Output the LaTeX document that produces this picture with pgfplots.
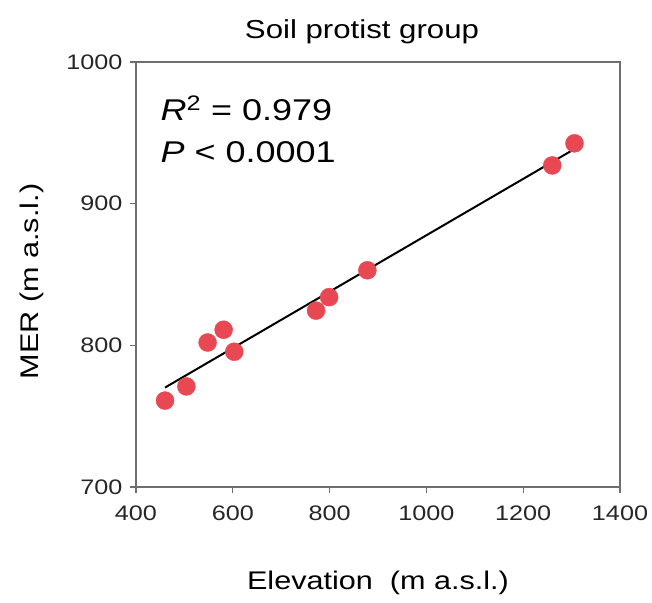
\documentclass[border=0pt]{standalone}
\usepackage{fontspec}
\setmainfont{Liberation Sans}[FakeStretch=1.2]
\usepackage{pgfplots}
\pgfplotsset{compat=1.18}
\definecolor{ptred}{RGB}{232,72,82}
\definecolor{framegray}{RGB}{110,110,110}
\begin{document}
\begin{tikzpicture}
\begin{axis}[
  scale only axis,
  width=484pt, height=425pt,
  xmin=400, xmax=1400, ymin=700, ymax=1000,
  xtick={400,600,800,1000,1200,1400},
  ytick={700,800,900,1000},
  xtick pos=bottom, ytick pos=left,
  tick align=outside,
  major tick length=6pt,
  axis line style={framegray, line width=1.6pt},
  every tick/.style={framegray, line width=1.2pt},
  /pgf/number format/assume math mode=true,
  /pgf/number format/1000 sep={},
  ticklabel style={font=\fontsize{21}{25}\selectfont, text=black!85},
  xticklabel style={yshift=-9pt},
  yticklabel style={xshift=-4pt},
  title={Soil protist group},
  title style={font=\fontsize{26}{30}\selectfont, at={(axis description cs:0.5,1)}, anchor=base, yshift=17pt, xshift=-16pt},
  xlabel={Elevation\ \ (m a.s.l.)},
  xlabel style={font=\fontsize{25.5}{30}\selectfont, at={(axis description cs:0.5,0)}, anchor=base, yshift=-102pt},
  ylabel={MER (m a.s.l.)},
  ylabel style={font=\fontsize{25.5}{30}\selectfont, at={(axis description cs:0,0.5)}, anchor=base, xshift=-7pt, yshift=97pt},
]
\addplot[only marks, mark=*, mark size=9pt, mark options={fill=ptred, draw=ptred}]
  coordinates {
  (460,761) (504,771) (548,802) (581,811) (603,795.5)
  (772,824.5) (799,834) (878,853) (1260,927) (1306,942.6)
  };
\addplot[black, line width=2pt] coordinates {(460,770.2) (1308,939)};
\node[anchor=base west, font=\fontsize{30}{36}\selectfont] at (rel axis cs:0.0435,0.8635) {\textit{R}\textsuperscript{2} = 0.979};
\node[anchor=base west, font=\fontsize{30}{36}\selectfont] at (rel axis cs:0.0435,0.7647) {\textit{P} < 0.0001};
\end{axis}
\useasboundingbox (-136pt,-115pt) rectangle (516pt,487pt);
\end{tikzpicture}
\end{document}
